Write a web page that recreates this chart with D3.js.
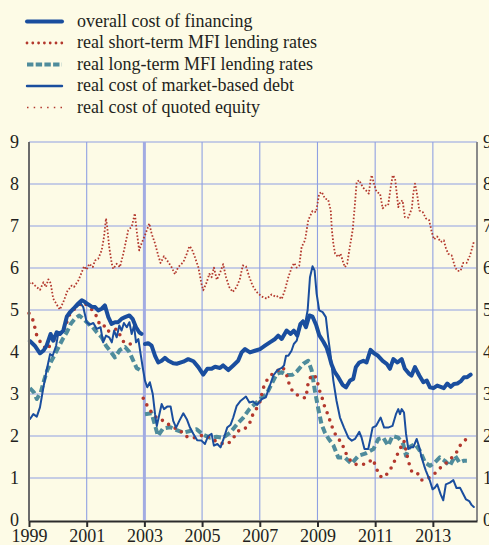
<!DOCTYPE html>
<html>
<head>
<meta charset="utf-8">
<script src="https://cdn.jsdelivr.net/npm/d3@7"></script>
<style>
  html, body { margin: 0; padding: 0; background: #fdfbe6; }
  svg { display: block; }
  text { font-family: "Liberation Serif", "Times New Roman", serif; fill: #231f20; }
</style>
</head>
<body>
<svg id="chart" width="489" height="545"></svg>
<script>
// Cost of financing for non-financial corporations (% per annum, real terms)
const yTicks = [0, 1, 2, 3, 4, 5, 6, 7, 8, 9];
const xTickYears = [1999, 2001, 2003, 2005, 2007, 2009, 2011, 2013];
const breakYear = 2003;

const seriesNames = [
  "overall cost of financing",
  "real short-term MFI lending rates",
  "real long-term MFI lending rates",
  "real cost of market-based debt",
  "real cost of quoted equity"
];

// overall cost of financing
const overallDates = [1999.03,1999.2,1999.38,1999.5,1999.61,1999.75,1999.84,1999.96,2000.07,2000.19,2000.31,2000.42,2000.54,2000.67,2000.83,2000.94,2001.06,2001.17,2001.29,2001.4,2001.52,2001.63,2001.75,2001.86,2001.98,2002.09,2002.21,2002.33,2002.48,2002.59,2002.71,2002.82,2002.9,2003.0,2003.02,2003.13,2003.25,2003.37,2003.48,2003.6,2003.71,2003.83,2004.0,2004.12,2004.35,2004.52,2004.7,2004.87,2005.04,2005.18,2005.33,2005.45,2005.62,2005.73,2005.91,2006.08,2006.25,2006.37,2006.49,2006.66,2006.83,2007.01,2007.18,2007.35,2007.53,2007.64,2007.76,2007.93,2008.07,2008.18,2008.3,2008.41,2008.5,2008.6,2008.72,2008.83,2008.95,2009.06,2009.2,2009.32,2009.41,2009.49,2009.6,2009.72,2009.87,2009.99,2010.13,2010.24,2010.33,2010.45,2010.59,2010.7,2010.84,2010.96,2011.1,2011.26,2011.4,2011.51,2011.63,2011.77,2011.92,2012.03,2012.18,2012.26,2012.38,2012.53,2012.67,2012.79,2012.9,2013.02,2013.15,2013.27,2013.38,2013.5,2013.62,2013.73,2013.85,2013.96,2014.08,2014.19,2014.31];
const overallValues = [4.26,4.15,3.97,4.03,4.15,4.43,4.27,4.47,4.43,4.51,4.84,4.95,5.03,5.13,5.23,5.19,5.13,5.08,5.07,4.99,5.03,5.11,4.83,4.67,4.71,4.71,4.79,4.83,4.87,4.79,4.59,4.47,4.43,null,4.19,4.21,4.15,3.91,3.75,3.79,3.86,3.79,3.73,3.72,3.77,3.83,3.78,3.64,3.46,3.60,3.60,3.65,3.62,3.68,3.57,3.68,3.79,3.99,4.07,3.99,4.03,4.07,4.15,4.23,4.31,4.39,4.31,4.51,4.43,4.51,4.39,4.67,4.73,4.59,4.87,4.84,4.65,4.40,4.25,4.10,3.90,3.70,3.52,3.40,3.22,3.16,3.32,3.36,3.64,3.75,3.79,3.75,4.05,3.97,3.91,3.79,3.72,3.60,3.83,3.75,3.83,3.60,3.48,3.44,3.64,3.44,3.28,3.32,3.16,3.14,3.20,3.17,3.14,3.25,3.17,3.24,3.25,3.30,3.40,3.40,3.46];

// real short-term MFI lending rates
const shortDates = [1999.0,1999.13,1999.2,1999.27,1999.4,1999.61,1999.79,1999.98,2000.19,2000.31,2000.42,2000.54,2000.88,2001.06,2001.21,2001.35,2001.44,2001.58,2001.67,2001.81,2002.04,2002.29,2002.5,2002.73,2002.95,2002.96,2003.1,2003.25,2003.47,2003.7,2003.83,2004.0,2004.21,2004.4,2004.6,2004.83,2005.04,2005.27,2005.5,2005.71,2005.91,2006.08,2006.25,2006.43,2006.64,2006.72,2006.91,2007.01,2007.12,2007.24,2007.41,2007.64,2007.8,2007.96,2008.03,2008.16,2008.39,2008.6,2008.68,2008.8,2008.95,2009.03,2009.09,2009.18,2009.26,2009.37,2009.49,2009.55,2009.66,2009.84,2009.95,2010.15,2010.3,2010.47,2010.7,2010.92,2011.05,2011.15,2011.3,2011.45,2011.6,2011.8,2012.0,2012.15,2012.27,2012.45,2012.61,2012.8,2013.07,2013.24,2013.57,2013.82,2013.96,2014.16];
const shortValues = [4.92,4.77,4.59,4.39,4.23,4.05,4.21,4.39,4.51,4.71,4.91,5.00,5.19,5.08,4.99,4.84,4.67,4.67,4.51,4.49,4.55,4.23,4.19,4.21,null,2.90,2.72,2.56,2.40,2.36,2.28,2.20,2.16,2.00,1.96,1.96,2.03,1.96,1.87,1.82,1.82,1.95,2.12,2.14,2.28,2.46,2.68,2.82,3.14,3.32,3.46,3.57,3.64,3.40,3.20,3.04,2.94,2.90,3.28,3.46,3.40,3.20,3.04,2.87,2.67,2.50,2.24,2.16,1.97,1.85,1.63,1.41,1.33,1.31,1.34,1.45,1.22,1.05,1.01,1.13,1.29,1.61,1.88,1.40,1.15,1.13,0.95,0.97,1.11,1.23,1.42,1.61,1.79,1.93];

// real long-term MFI lending rates
const longDates = [1999.03,1999.17,1999.27,1999.41,1999.52,1999.63,1999.75,1999.9,2000.02,2000.17,2000.31,2000.45,2000.59,2000.74,2000.88,2001.06,2001.21,2001.35,2001.52,2001.67,2001.81,2001.98,2002.15,2002.33,2002.48,2002.59,2002.73,2002.87,2002.95,2003.02,2003.25,2003.37,2003.47,2003.65,2003.89,2004.12,2004.35,2004.58,2004.81,2005.04,2005.27,2005.5,2005.73,2005.97,2006.2,2006.43,2006.64,2006.83,2007.01,2007.24,2007.41,2007.59,2007.76,2007.93,2008.14,2008.3,2008.51,2008.68,2008.8,2008.91,2009.03,2009.14,2009.26,2009.37,2009.55,2009.72,2009.95,2010.18,2010.42,2010.65,2010.94,2011.11,2011.28,2011.45,2011.6,2011.8,2011.97,2012.07,2012.18,2012.38,2012.55,2012.73,2012.9,2013.07,2013.24,2013.41,2013.59,2013.77,2013.92,2014.06,2014.18];
const longValues = [3.14,3.04,2.88,3.04,3.32,3.56,3.75,3.95,4.11,4.31,4.47,4.67,4.79,4.87,4.79,4.67,4.59,4.47,4.35,4.15,4.03,3.87,4.05,4.12,4.00,3.83,3.62,3.56,null,2.52,2.54,2.25,2.00,2.18,2.21,2.14,2.08,2.12,2.16,2.03,1.96,1.98,1.96,2.08,2.27,2.44,2.64,2.76,2.88,3.00,3.24,3.48,3.52,3.45,3.46,3.55,3.72,3.79,3.56,3.08,2.64,2.28,2.08,1.95,1.78,1.49,1.49,1.34,1.53,1.58,1.69,1.93,1.96,1.77,2.00,1.96,1.81,1.53,1.73,1.81,1.65,1.37,1.29,1.37,1.49,1.41,1.29,1.53,1.37,1.41,1.41];

// real cost of market-based debt
const debtDates = [1999.03,1999.15,1999.27,1999.38,1999.5,1999.61,1999.73,1999.82,1999.94,2000.02,2000.1,2000.21,2000.31,2000.42,2000.56,2000.67,2000.79,2000.88,2001.0,2001.11,2001.23,2001.35,2001.48,2001.57,2001.67,2001.78,2001.87,2001.95,2002.04,2002.13,2002.21,2002.29,2002.39,2002.48,2002.56,2002.64,2002.71,2002.79,2002.87,2002.94,2003.02,2003.1,2003.19,2003.29,2003.37,2003.43,2003.52,2003.6,2003.68,2003.79,2003.91,2004.0,2004.1,2004.21,2004.35,2004.47,2004.58,2004.7,2004.83,2004.98,2005.1,2005.21,2005.33,2005.41,2005.53,2005.64,2005.76,2005.87,2005.99,2006.08,2006.2,2006.34,2006.52,2006.64,2006.77,2006.91,2007.07,2007.21,2007.33,2007.47,2007.61,2007.76,2007.84,2007.91,2007.99,2008.1,2008.18,2008.28,2008.39,2008.49,2008.57,2008.66,2008.74,2008.83,2008.9,2008.97,2009.06,2009.18,2009.29,2009.37,2009.45,2009.55,2009.66,2009.78,2009.92,2010.07,2010.19,2010.3,2010.45,2010.53,2010.63,2010.76,2010.82,2010.91,2011.03,2011.19,2011.31,2011.45,2011.6,2011.72,2011.8,2011.86,2011.92,2012.0,2012.07,2012.15,2012.23,2012.32,2012.44,2012.53,2012.61,2012.7,2012.76,2012.9,2012.99,2013.07,2013.15,2013.27,2013.36,2013.45,2013.59,2013.71,2013.82,2013.94,2014.03,2014.15,2014.26,2014.34,2014.42];
const debtValues = [2.40,2.52,2.46,2.68,3.16,3.56,3.95,3.91,4.15,4.47,4.43,4.51,4.83,4.91,5.03,5.08,5.16,5.07,4.71,4.65,4.69,4.55,4.59,4.23,4.39,4.35,4.23,4.51,4.35,4.63,4.51,4.69,4.59,4.71,4.43,4.63,4.23,4.31,3.95,3.64,3.32,3.16,3.28,3.00,2.52,2.24,2.52,2.76,2.64,2.70,2.70,2.36,2.20,2.36,2.54,2.40,2.20,2.05,1.90,1.89,1.81,2.00,2.05,1.77,1.81,1.73,1.96,2.20,2.27,2.44,2.72,2.84,2.94,2.80,2.82,2.74,2.88,2.92,3.16,3.44,3.57,3.62,3.68,3.91,3.91,4.03,4.19,4.27,4.59,4.75,4.67,5.00,5.78,6.04,5.94,5.39,4.99,4.95,4.83,4.35,3.95,3.32,2.84,2.44,2.20,1.96,1.89,1.93,2.10,1.96,1.69,1.69,1.89,2.20,2.24,2.44,2.20,2.20,2.24,2.52,2.64,2.52,2.64,2.56,2.05,1.69,1.73,1.73,1.93,1.73,1.49,1.29,1.17,0.93,0.73,0.77,0.85,0.61,0.47,0.85,0.89,0.95,0.76,0.77,0.65,0.49,0.45,0.36,0.31];

// real cost of quoted equity
const equityDates = [1999.0,1999.09,1999.21,1999.38,1999.5,1999.59,1999.67,1999.75,1999.84,1999.96,2000.07,2000.19,2000.33,2000.48,2000.56,2000.71,2000.83,2000.91,2001.0,2001.09,2001.21,2001.29,2001.4,2001.52,2001.6,2001.67,2001.71,2001.78,2001.87,2001.92,2002.04,2002.15,2002.27,2002.44,2002.56,2002.67,2002.73,2002.82,2002.9,2003.02,2003.17,2003.25,2003.37,2003.48,2003.56,2003.68,2003.83,2003.95,2004.06,2004.17,2004.35,2004.47,2004.56,2004.64,2004.75,2004.87,2004.98,2005.04,2005.16,2005.25,2005.33,2005.41,2005.51,2005.62,2005.73,2005.83,2005.94,2006.06,2006.2,2006.31,2006.41,2006.52,2006.64,2006.75,2006.89,2007.07,2007.24,2007.41,2007.56,2007.64,2007.76,2007.87,2007.99,2008.11,2008.19,2008.28,2008.37,2008.45,2008.57,2008.68,2008.83,2008.95,2009.06,2009.15,2009.26,2009.37,2009.46,2009.5,2009.55,2009.61,2009.72,2009.8,2009.89,2009.95,2010.03,2010.13,2010.22,2010.3,2010.36,2010.45,2010.57,2010.68,2010.78,2010.84,2010.88,2010.96,2011.05,2011.17,2011.26,2011.37,2011.45,2011.54,2011.61,2011.69,2011.75,2011.8,2011.86,2011.95,2012.03,2012.15,2012.27,2012.32,2012.38,2012.46,2012.53,2012.65,2012.76,2012.87,2012.96,2013.04,2013.15,2013.27,2013.38,2013.45,2013.53,2013.65,2013.77,2013.85,2013.96,2014.05,2014.17,2014.29,2014.42];
const equityValues = [5.63,5.66,5.58,5.48,5.66,5.55,5.73,5.64,5.27,5.13,5.01,5.19,5.45,5.58,5.55,5.70,5.90,6.04,5.96,6.10,6.02,6.18,6.22,6.42,6.74,7.18,6.98,6.50,6.10,5.98,6.10,6.02,6.34,6.90,6.98,7.30,6.90,6.42,6.58,6.78,7.06,6.82,6.58,6.30,6.12,6.28,6.14,6.01,5.85,6.02,6.14,6.34,6.52,6.46,6.26,6.02,5.62,5.47,5.66,5.86,5.78,6.01,5.72,5.88,6.09,5.78,5.55,5.43,5.55,5.74,6.06,6.04,5.78,5.58,5.43,5.32,5.27,5.37,5.31,5.33,5.26,5.47,5.78,6.02,6.12,6.01,6.06,6.50,6.66,7.14,7.36,7.33,7.77,7.81,7.65,7.63,7.37,6.90,6.58,6.34,6.26,6.34,6.14,6.02,6.10,6.54,6.90,7.53,8.05,8.09,7.92,7.85,7.77,8.09,8.21,8.01,7.81,7.77,7.42,7.49,7.49,7.93,8.21,8.13,7.77,7.45,7.57,7.61,7.21,7.20,7.42,7.77,8.01,7.73,7.37,7.33,7.18,7.14,6.86,6.68,6.75,6.62,6.66,6.48,6.34,6.30,6.02,5.93,5.93,6.12,6.12,6.30,6.62];

const blue = "#1a4e9e", red = "#b3382d", teal = "#4f8c9c", grid = "#8fa0e2";
const fontSize = 18;
const serif = "'Liberation Serif', 'Times New Roman', serif";

const svg = d3.select("#chart");
const W = 489;
const plot = { left: 29, right: 477, top: 142, bottom: 520 };

const x = d3.scaleLinear().domain([1999, 2014.53]).range([plot.left, plot.right]);
const y = d3.scaleLinear().domain([0, 9]).range([plot.bottom, plot.top]);

svg.append("rect").attr("width", W).attr("height", 545).attr("fill", "#fdfbe6");

// horizontal gridlines
svg.append("g").selectAll("line").data(yTicks.filter(v => v > 0)).join("line")
  .attr("x1", plot.left).attr("x2", plot.right)
  .attr("y1", d => y(d)).attr("y2", d => y(d))
  .attr("stroke", grid).attr("stroke-width", 1.1);

// vertical gridlines
svg.append("g").selectAll("line").data(xTickYears.filter(v => v > 1999 && v !== breakYear)).join("line")
  .attr("x1", d => x(d)).attr("x2", d => x(d))
  .attr("y1", plot.top).attr("y2", plot.bottom)
  .attr("stroke", grid).attr("stroke-width", 1.1);

// statistical break marker
svg.append("line")
  .attr("x1", x(breakYear)).attr("x2", x(breakYear))
  .attr("y1", plot.top).attr("y2", plot.bottom)
  .attr("stroke", "#a2abe2").attr("stroke-width", 3);

const zip = (dates, values) => dates.map((d, i) => ({ t: d, v: values[i] }));
const lineGen = d3.line().defined(d => d.v !== null).x(d => x(d.t)).y(d => y(d.v));

const series = [
  { data: zip(overallDates, overallValues), stroke: blue, width: 4, dash: null, cap: "round", lDash: null, lWidth: 4 },
  { data: zip(shortDates, shortValues), stroke: red, width: 3.6, dash: "0 7.6", cap: "round", lDash: "0 5.8", lWidth: 2.8 },
  { data: zip(longDates, longValues), stroke: teal, width: 4, dash: "7 3.5", cap: "butt", lDash: "6.4 2.3", lWidth: 4 },
  { data: zip(debtDates, debtValues), stroke: blue, width: 2, dash: null, cap: "round", lDash: null, lWidth: 2.4 },
  { data: zip(equityDates, equityValues), stroke: red, width: 1.8, dash: "1.6 1.9", cap: "butt", lDash: "1.5 5.2", lWidth: 1.6 }
];

const drawOrder = [2, 1, 4, 3, 0];
drawOrder.forEach(i => {
  const s = series[i];
  svg.append("path")
    .datum(s.data)
    .attr("d", lineGen)
    .attr("fill", "none")
    .attr("stroke", s.stroke)
    .attr("stroke-width", s.width)
    .attr("stroke-linecap", s.cap)
    .attr("stroke-linejoin", "round")
    .attr("stroke-dasharray", s.dash);
});

// axis frame
svg.append("line").attr("x1", plot.left).attr("x2", plot.left)
  .attr("y1", plot.top).attr("y2", plot.bottom + 1)
  .attr("stroke", "#6b6b6b").attr("stroke-width", 2);
svg.append("line").attr("x1", plot.right).attr("x2", plot.right)
  .attr("y1", plot.top).attr("y2", plot.bottom + 1)
  .attr("stroke", "#8a8a8a").attr("stroke-width", 2);

const xAxis = d3.axisBottom(x).tickValues(xTickYears).tickFormat(d3.format("d"))
  .tickSizeInner(6).tickSizeOuter(0).tickPadding(2);
const gx = svg.append("g").attr("transform", `translate(0,${plot.bottom + 1})`).call(xAxis);
gx.attr("font-family", serif).attr("font-size", fontSize);
gx.select(".domain").attr("stroke", "#2b2b2b").attr("stroke-width", 2);
gx.selectAll(".tick line").attr("stroke", "#2b2b2b").attr("stroke-width", 2);
gx.selectAll(".tick text").attr("fill", "#231f20").attr("dy", "0.74em");

const yLeft = d3.axisLeft(y).tickValues(yTicks).tickFormat(d3.format("d")).tickSize(0).tickPadding(9);
const gyl = svg.append("g").attr("transform", `translate(${plot.left - 1},0)`).call(yLeft);
gyl.attr("font-family", serif).attr("font-size", fontSize);
gyl.select(".domain").remove();
gyl.selectAll(".tick text").attr("fill", "#231f20").attr("dy", "0.32em");

const yRight = d3.axisRight(y).tickValues(yTicks).tickFormat(d3.format("d")).tickSize(0).tickPadding(6);
const gyr = svg.append("g").attr("transform", `translate(${plot.right},0)`).call(yRight);
gyr.attr("font-family", serif).attr("font-size", fontSize);
gyr.select(".domain").remove();
gyr.selectAll(".tick text").attr("fill", "#231f20").attr("dy", "0.32em");

// legend
const legend = svg.append("g").attr("font-family", serif).attr("font-size", fontSize);
const rowY = [21.5, 43, 64.5, 86, 107.5];
series.forEach((s, i) => {
  legend.append("line")
    .attr("x1", 27).attr("x2", 62)
    .attr("y1", rowY[i]).attr("y2", rowY[i])
    .attr("stroke", s.stroke)
    .attr("stroke-width", s.lWidth)
    .attr("stroke-linecap", s.cap)
    .attr("stroke-dasharray", s.lDash);
  legend.append("text")
    .attr("x", 77).attr("y", rowY[i]).attr("dy", "0.3em")
    .text(seriesNames[i]);
});
</script>
</body>
</html>
